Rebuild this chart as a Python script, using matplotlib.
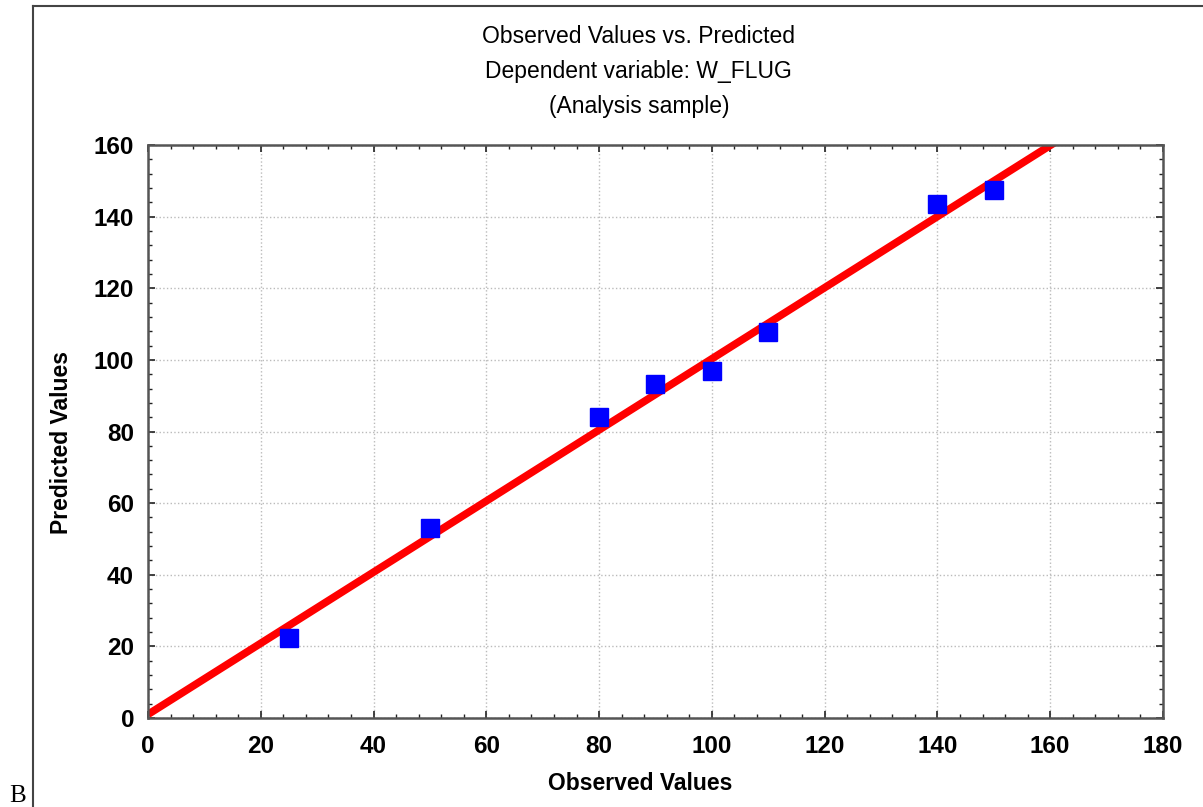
import numpy as np
import matplotlib.pyplot as plt
from matplotlib.lines import Line2D
from matplotlib.ticker import MultipleLocator

# observed vs predicted values
observed = [25, 50, 80, 90, 100, 110, 140, 150]
predicted = [22.3, 53.0, 84.0, 93.3, 96.9, 107.8, 143.6, 147.5]

# fitted line (intercept, slope)
fit_intercept = 1.0
fit_slope = 0.993
fit_x = np.array([0, 180])
fit_y = fit_intercept + fit_slope * fit_x

plt.rcParams['font.family'] = ['Liberation Sans', 'DejaVu Sans']

fig = plt.figure(figsize=(12.03, 8.07), dpi=100)
ax = fig.add_axes([0.123, 0.1103, 0.8437, 0.71])

ax.plot(fit_x, fit_y, color='red', lw=5.5, zorder=2, solid_capstyle='butt')
ax.plot(observed, predicted, 's', color='blue', markersize=13, zorder=3)

ax.set_xlim(0, 180)
ax.set_ylim(0, 160)
ax.xaxis.set_major_locator(MultipleLocator(20))
ax.yaxis.set_major_locator(MultipleLocator(20))
ax.xaxis.set_minor_locator(MultipleLocator(4))
ax.yaxis.set_minor_locator(MultipleLocator(4))
ax.tick_params(which='both', direction='in', top=True, right=True,
               color='#222222')
ax.tick_params(which='major', length=5, width=1.2, labelsize=17.5)
ax.tick_params(axis='x', which='major', pad=12)
ax.tick_params(axis='y', which='major', pad=10)
ax.tick_params(which='minor', length=3, width=1)
for t in ax.get_xticklabels() + ax.get_yticklabels():
    t.set_fontweight('bold')
ax.grid(True, which='major', ls=':', color='#bbbbbb', lw=1)
for s in ax.spines.values():
    s.set_color('#555555')
    s.set_linewidth(1.8)

ax.set_xlabel('Observed Values', fontsize=16.5, fontweight='bold')
ax.set_ylabel('Predicted Values', fontsize=16.5, fontweight='bold')
ax.xaxis.set_label_coords(0.485, -0.094)
ax.yaxis.set_label_coords(-0.074, 0.48)

fig.text(0.531, 0.955, 'Observed Values vs. Predicted', ha='center', va='center', fontsize=16.5)
fig.text(0.531, 0.912, 'Dependent variable: W_FLUG', ha='center', va='center', fontsize=16.5)
fig.text(0.531, 0.868, '(Analysis sample)', ha='center', va='center', fontsize=16.5)

# outer frame
fig.add_artist(Line2D([0.0274, 0.0274], [0, 0.9926], color='#444444', lw=1.5))
fig.add_artist(Line2D([0.0274, 1.0], [0.9926, 0.9926], color='#444444', lw=1.5))
fig.text(0.008, 0.006, 'B', fontsize=18, family=['Liberation Serif', 'DejaVu Serif'],
         ha='left', va='baseline')

fig.savefig('out.png', dpi=100)
